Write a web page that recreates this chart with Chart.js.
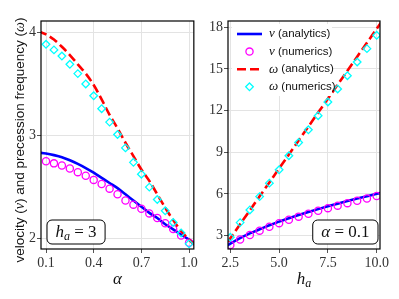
<!DOCTYPE html>
<html>
<head>
<meta charset="utf-8">
<script src="https://cdn.jsdelivr.net/npm/chart.js@4.4.0/dist/chart.umd.min.js"></script>
<style>
html, body { margin: 0; padding: 0; background: #fff; }
#wrap { position: relative; width: 399px; height: 299px; }
canvas { position: absolute; top: 0; }
#left { left: 0; }
#right { left: 200px; }
</style>
</head>
<body>
<div id="wrap">
    <canvas id="left" width="200" height="299"></canvas>
    <canvas id="right" width="199" height="299"></canvas>
</div>
<script>
// left panel: h_a = 3, sweep over alpha
const alphaLine = [0.05, 0.1, 0.15, 0.2, 0.25, 0.3, 0.35, 0.4, 0.45, 0.5, 0.55, 0.6, 0.65, 0.7, 0.75, 0.8, 0.85, 0.9, 0.95, 1.0, 1.05];
const vAnaAlpha = [2.835, 2.825, 2.81, 2.79, 2.76, 2.725, 2.685, 2.64, 2.59, 2.54, 2.49, 2.43, 2.37, 2.31, 2.25, 2.2, 2.14, 2.09, 2.04, 1.99, 1.94];
const wAnaAlpha = [4.01, 3.98, 3.93, 3.86, 3.78, 3.69, 3.6, 3.49, 3.35, 3.2, 3.07, 2.93, 2.8, 2.67, 2.56, 2.43, 2.3, 2.18, 2.075, 1.99, 1.92];
const alphaNum = [0.1, 0.15, 0.2, 0.25, 0.3, 0.35, 0.4, 0.45, 0.5, 0.55, 0.6, 0.65, 0.7, 0.75, 0.8, 0.85, 0.9, 0.95, 1.0];
const vNumAlpha = [2.75, 2.73, 2.71, 2.68, 2.645, 2.61, 2.57, 2.53, 2.485, 2.43, 2.37, 2.33, 2.29, 2.245, 2.2, 2.15, 2.095, 2.03, 1.96];
const wNumAlpha = [3.884, 3.83, 3.77, 3.69, 3.6, 3.5, 3.385, 3.26, 3.13, 3.01, 2.88, 2.74, 2.625, 2.5, 2.38, 2.27, 2.157, 2.055, 1.95];
const alphaTicks = [0.1, 0.4, 0.7, 1.0];
const leftYTicks = [2, 3, 4];

// right panel: alpha = 0.1, sweep over h_a
const haLine = [2.0, 2.5, 3.0, 3.5, 4.0, 4.5, 5.0, 5.5, 6.0, 6.5, 7.0, 7.5, 8.0, 8.5, 9.0, 9.5, 10.0, 10.5];
const vAnaHa = [1.98, 2.42, 2.82, 3.16, 3.46, 3.75, 4.01, 4.25, 4.48, 4.7, 4.91, 5.11, 5.3, 5.49, 5.67, 5.84, 6.01, 6.17];
const wAnaHa = [1.8, 2.81, 3.82, 4.82, 5.83, 6.83, 7.84, 8.84, 9.85, 10.85, 11.86, 12.86, 13.87, 14.87, 15.88, 16.88, 17.89, 18.89];
const haNum = [2.5, 3.0, 3.5, 4.0, 4.5, 5.0, 5.5, 6.0, 6.5, 7.0, 7.5, 8.0, 8.5, 9.0, 9.5, 10.0];
const vNumHa = [2.33, 2.72, 3.05, 3.36, 3.64, 3.9, 4.14, 4.37, 4.58, 4.79, 4.98, 5.16, 5.34, 5.51, 5.68, 5.85];
const wNumHa = [2.88, 3.94, 4.85, 5.81, 6.78, 7.74, 8.75, 9.7, 10.62, 11.63, 12.62, 13.56, 14.51, 15.5, 16.46, 17.42];
const haTicks = [2.5, 5.0, 7.5, 10.0];
const rightYTicks = [3, 6, 9, 12, 15, 18];

const SERIF = "'Liberation Serif', 'DejaVu Serif', serif";
const SANS = "'Liberation Sans', 'DejaVu Sans', sans-serif";

function pts(xs, ys) {
    return xs.map((x, i) => ({ x: x, y: ys[i] }));
}

function lineSet(label, xs, ys, color, dash, order) {
    return {
        label, data: pts(xs, ys), showLine: true, borderColor: color, borderWidth: 2.6,
        borderDash: dash, pointRadius: 0, cubicInterpolationMode: "monotone", clip: 0, order
    };
}

function markSet(label, xs, ys, color, style, r, order) {
    return {
        label, data: pts(xs, ys), showLine: false, borderColor: color, backgroundColor: "rgba(0,0,0,0)",
        pointStyle: style, pointRadius: r, pointBorderWidth: 1.3, order
    };
}

function drawParts(ctx, parts, x, y) {
    let total = 0;
    parts.forEach(p => { ctx.font = p.font; p.w = ctx.measureText(p.t).width; total += p.w; });
    let cx = x - total / 2;
    ctx.textAlign = "left";
    ctx.textBaseline = "middle";
    parts.forEach(p => { ctx.font = p.font; ctx.fillText(p.t, cx, y + (p.dy || 0)); cx += p.w; });
    return total;
}

function measureParts(ctx, parts) {
    let total = 0;
    parts.forEach(p => { ctx.font = p.font; total += ctx.measureText(p.t).width; });
    return total;
}

function roundBox(ctx, x, y, w, h, r) {
    ctx.beginPath();
    ctx.moveTo(x + r, y);
    ctx.arcTo(x + w, y, x + w, y + h, r);
    ctx.arcTo(x + w, y + h, x, y + h, r);
    ctx.arcTo(x, y + h, x, y, r);
    ctx.arcTo(x, y, x + w, y, r);
    ctx.closePath();
}

function makeScale(min, max, ticks, fmt, fitSize, isX) {
    return {
        type: "linear", min, max,
        afterBuildTicks: s => { s.ticks = ticks.map(v => ({ value: v })); },
        afterFit: s => { if (isX) s.height = fitSize; else s.width = fitSize; },
        ticks: {
            autoSkip: false, maxRotation: 0, padding: isX ? 2 : 1, color: "#333",
            font: { family: SERIF, size: 14 }, callback: fmt
        },
        grid: { color: "#e3e3e3", tickColor: "#555", tickLength: 4, lineWidth: 1 },
        border: { display: false }
    };
}

// frame, axis titles, annotation box and legend
function panelPlugin(cfg) {
    return {
        id: "panel",
        afterDraw(chart) {
            const ctx = chart.ctx, a = chart.chartArea;
            ctx.save();
            ctx.strokeStyle = "#000";
            ctx.lineWidth = 1.2;
            ctx.strokeRect(a.left, a.top, a.right - a.left, a.bottom - a.top);
            ctx.fillStyle = "#111";
            drawParts(ctx, cfg.xTitle, (a.left + a.right) / 2, 280);

            if (cfg.yTitle) {
                ctx.save();
                ctx.translate(20, 140);
                ctx.rotate(-Math.PI / 2);
                drawParts(ctx, cfg.yTitle, 0, 0);
                ctx.restore();
            }

            // annotation box
            const tw = measureParts(ctx, cfg.note);
            const bw = tw + 17, bh = 24;
            const bx = cfg.noteLeft ? a.left + 6 : a.right - 2 - bw;
            const by = a.bottom - 5 - bh;
            roundBox(ctx, bx, by, bw, bh, 5);
            ctx.fillStyle = "#fff";
            ctx.fill();
            ctx.lineWidth = 1;
            ctx.strokeStyle = "#000";
            ctx.stroke();
            ctx.fillStyle = "#111";
            drawParts(ctx, cfg.note, bx + bw / 2, by + bh / 2 + 1);

            if (cfg.legend) {
                const sets = chart.data.datasets;
                const lx = a.left, ly = a.top;
                ctx.fillStyle = "#fff";
                ctx.fillRect(lx + 4, ly + 3, 100, 72);
                sets.forEach((ds, i) => {
                    const y = ly + 13 + i * 17.6;
                    if (ds.showLine) {
                        ctx.save();
                        ctx.strokeStyle = ds.borderColor;
                        ctx.lineWidth = ds.borderWidth;
                        ctx.setLineDash(ds.borderDash);
                        ctx.beginPath();
                        ctx.moveTo(lx + 9, y);
                        ctx.lineTo(lx + 34, y);
                        ctx.stroke();
                        ctx.restore();
                    } else {
                        ctx.save();
                        ctx.strokeStyle = ds.borderColor;
                        ctx.fillStyle = "rgba(0,0,0,0)";
                        ctx.lineWidth = ds.pointBorderWidth;
                        Chart.helpers.drawPoint(ctx, { pointStyle: ds.pointStyle, radius: ds.pointRadius, rotation: 0, borderWidth: ds.pointBorderWidth }, lx + 21.5, y);
                        ctx.restore();
                    }
                    const parts = cfg.legend[i];
                    ctx.fillStyle = "#111";
                    const w = measureParts(ctx, parts);
                    drawParts(ctx, parts, lx + 41 + w / 2, y);
                });
            }
            ctx.restore();
        }
    };
}

const mathIt = (s, size) => ({ t: s, font: `italic ${size}px ${SERIF}` });
const sans = (s, size) => ({ t: s, font: `${size}px ${SANS}` });

new Chart(document.getElementById("left"), {
    type: "scatter",
    data: {
        datasets: [
            lineSet("v (analytics)", alphaLine, vAnaAlpha, "#0000ff", [], 4),
            markSet("v (numerics)", alphaNum, vNumAlpha, "#ff00ff", "circle", 3.6, 3),
            lineSet("ω (analytics)", alphaLine, wAnaAlpha, "#ff0000", [9, 4], 2),
            markSet("ω (numerics)", alphaNum, wNumAlpha, "#00ffff", "rectRot", 3.8, 1)
        ]
    },
    options: {
        responsive: false,
        animation: false,
        layout: { padding: { top: 21, right: 6, left: 0, bottom: 0 } },
        scales: {
            x: makeScale(0.0685, 1.03, alphaTicks, v => v.toFixed(1), 50, true),
            y: makeScale(1.9, 4.11, leftYTicks, v => String(v), 41, false)
        },
        plugins: { legend: { display: false }, tooltip: { enabled: false } }
    },
    plugins: [panelPlugin({
        xTitle: [{ t: "α", font: `italic 17px ${SERIF}` }],
        yTitle: [sans("velocity (", 13.5), mathIt("v", 14), sans(") and precession frequency (", 13.5), mathIt("ω", 14), sans(")", 13.5)],
        note: [{ t: "h", font: `italic 17px ${SERIF}` }, { t: "a", font: `italic 12px ${SERIF}`, dy: 4 }, { t: " = 3", font: `17px ${SERIF}` }],
        noteLeft: true
    })]
});

new Chart(document.getElementById("right"), {
    type: "scatter",
    data: {
        datasets: [
            lineSet("v (analytics)", haLine, vAnaHa, "#0000ff", [], 4),
            markSet("v (numerics)", haNum, vNumHa, "#ff00ff", "circle", 3.6, 3),
            lineSet("ω (analytics)", haLine, wAnaHa, "#ff0000", [9, 4], 2),
            markSet("ω (numerics)", haNum, wNumHa, "#00ffff", "rectRot", 3.8, 1)
        ]
    },
    options: {
        responsive: false,
        animation: false,
        layout: { padding: { top: 21, right: 19, left: 0, bottom: 0 } },
        scales: {
            x: makeScale(2.38, 10.17, haTicks, v => v.toFixed(1), 50, true),
            y: makeScale(2.04, 18.45, rightYTicks, v => String(v), 28, false)
        },
        plugins: { legend: { display: false }, tooltip: { enabled: false } }
    },
    plugins: [panelPlugin({
        xTitle: [{ t: "h", font: `italic 17px ${SERIF}` }, { t: "a", font: `italic 12px ${SERIF}`, dy: 4 }],
        note: [{ t: "α", font: `italic 17px ${SERIF}` }, { t: " = 0.1", font: `17px ${SERIF}` }],
        noteLeft: false,
        legend: [
            [mathIt("v", 13), sans(" (analytics)", 11.5)],
            [mathIt("v", 13), sans(" (numerics)", 11.5)],
            [mathIt("ω", 13), sans(" (analytics)", 11.5)],
            [mathIt("ω", 13), sans(" (numerics)", 11.5)]
        ]
    })]
});
</script>
</body>
</html>
